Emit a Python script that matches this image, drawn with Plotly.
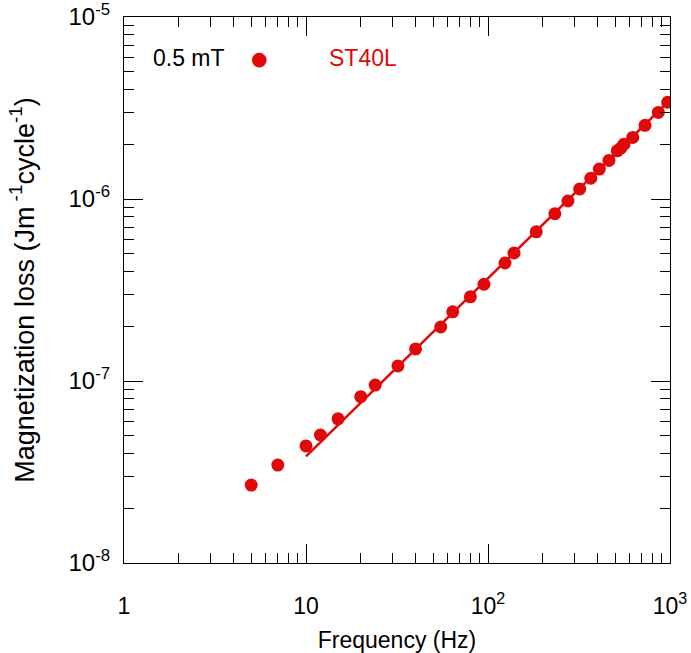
import plotly.graph_objects as go

# Measured data (0.5 mT, ST40L)
freq_hz = [5, 7, 10, 12, 15, 20, 24, 32, 40, 55, 64, 80, 95, 124, 139, 184, 233, 275,
           319, 367, 409, 462, 513, 536, 559, 624, 729, 863, 971]
loss = [2.68e-8, 3.45e-8, 4.4e-8, 5.05e-8, 6.2e-8, 8.2e-8, 9.5e-8, 1.21e-7, 1.5e-7,
        1.98e-7, 2.4e-7, 2.9e-7, 3.4e-7, 4.45e-7, 5.05e-7, 6.6e-7, 8.3e-7, 9.75e-7,
        1.135e-6, 1.3e-6, 1.46e-6, 1.63e-6, 1.84e-6, 1.9e-6, 2.0e-6, 2.18e-6, 2.54e-6,
        2.99e-6, 3.4e-6]

# Fitted line
fit_freq = [10, 1000]
fit_loss = [3.85e-8, 3.5e-6]

x_tickvals = [1, 10, 100, 1000]
x_ticktext = ["1", "10", "10<sup>2</sup>", "10<sup>3</sup>"]
y_tickvals = [1e-8, 1e-7, 1e-6, 1e-5]
y_ticktext = ["10<sup>-8</sup>", "10<sup>-7</sup>", "10<sup>-6</sup>", "10<sup>-5</sup>"]

RED = "rgb(224,8,8)"
FONT = "Liberation Sans, Arial, sans-serif"

fig = go.Figure()
fig.add_trace(go.Scatter(x=fit_freq, y=fit_loss, mode="lines",
                         line=dict(color=RED, width=2.5), showlegend=False))
fig.add_trace(go.Scatter(x=freq_hz, y=loss, mode="markers",
                         marker=dict(color=RED, size=13), showlegend=False))

axis_common = dict(
    type="log", showgrid=False, zeroline=False, automargin=False,
    showline=True, linecolor="black", linewidth=1.2, mirror="allticks",
    ticks="inside", ticklen=19, tickwidth=1, tickcolor="black",
    tickmode="array",
    minor=dict(ticks="inside", ticklen=10, tickwidth=1, tickcolor="black",
               dtick="D1", showgrid=False),
)

fig.update_xaxes(**axis_common, range=[0, 3], tickvals=x_tickvals, ticktext=x_ticktext,
                 ticklabelstandoff=22,
                 tickfont=dict(family=FONT, size=23, color="black"),
                 title=dict(text="Frequency (Hz)", standoff=30,
                            font=dict(family=FONT, size=23, color="black")))
fig.update_yaxes(**axis_common, range=[-8, -5], tickvals=y_tickvals, ticktext=y_ticktext,
                 ticklabelstandoff=8,
                 tickfont=dict(family=FONT, size=24, color="black"),
                 title=dict(text="Magnetization loss (Jm<sup> -1</sup>cycle<sup>-1</sup>)",
                            standoff=26,
                            font=dict(family=FONT, size=27, color="black")))

# Legend-like annotations
fig.add_annotation(x=0.05, y=0.925, xref="paper", yref="paper", text="0.5 mT",
                   showarrow=False, xanchor="left", yanchor="middle",
                   font=dict(family=FONT, size=23, color="black"))
fig.add_annotation(x=0.249, y=0.925, xref="paper", yref="paper", text="\u25CF",
                   showarrow=False, xanchor="center", yanchor="middle",
                   font=dict(family="DejaVu Sans", size=19, color=RED))
fig.add_annotation(x=0.372, y=0.925, xref="paper", yref="paper", text="ST40L",
                   showarrow=False, xanchor="left", yanchor="middle",
                   font=dict(family=FONT, size=23, color=RED))

fig.update_layout(
    width=691, height=653,
    margin=dict(l=124, r=21, t=17, b=90),
    plot_bgcolor="white", paper_bgcolor="white",
    font=dict(family=FONT, color="black"),
)

fig.write_html("out.html")
